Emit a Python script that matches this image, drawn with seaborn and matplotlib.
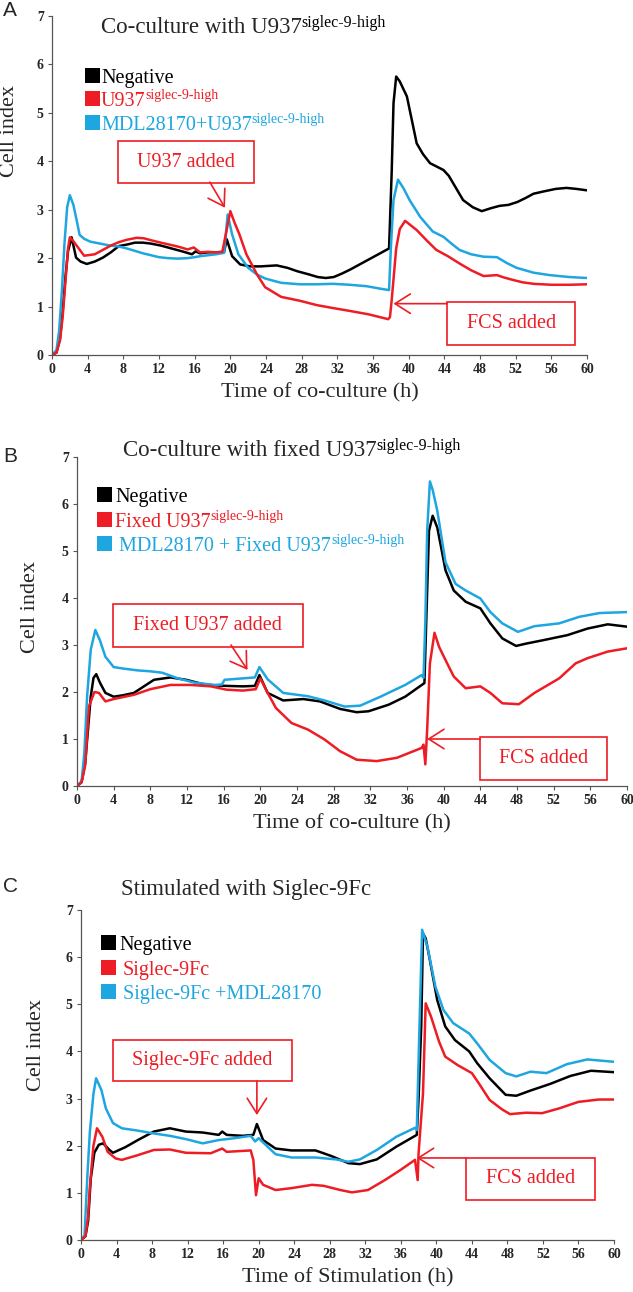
import matplotlib
matplotlib.use("Agg")
import matplotlib.pyplot as plt
import seaborn as sns
import pandas as pd
from matplotlib.patches import Rectangle

# ---------------- data (time h, cell index) ----------------
A_neg = [(0,0),(0.5,0.05),(0.9,0.35),(1.2,0.9),(1.5,1.6),(1.8,2.15),(2.2,2.43),(2.7,2.01),(3.2,1.93),(3.9,1.88),(4.8,1.93),(5.7,2.01),(6.6,2.12),(7.5,2.25),(8.4,2.28),(9.3,2.32),(10.2,2.32),(11.1,2.30),(12.2,2.26),(13.4,2.20),(14.6,2.14),(15.7,2.08),(16.1,2.14),(16.6,2.10),(17.5,2.12),(18.4,2.12),(19.3,2.13),(19.6,2.39),(20.2,2.04),(21.1,1.87),(22.2,1.83),(23.4,1.83),(24.3,1.84),(25.2,1.85),(26.4,1.80),(27.5,1.73),(28.7,1.67),(29.8,1.61),(30.7,1.59),(31.6,1.61),(32.5,1.68),(33.4,1.76),(34.8,1.90),(36.2,2.04),(37.8,2.20),(38.1,3.8),(38.3,5.2),(38.6,5.75),(39.0,5.65),(39.8,5.34),(40.3,4.9),(40.9,4.37),(41.6,4.15),(42.4,3.96),(43.9,3.82),(44.5,3.7),(45.3,3.45),(46.1,3.2),(47.2,3.05),(48.2,2.97),(49.2,3.03),(50.2,3.08),(51.2,3.10),(52.2,3.16),(53.2,3.25),(54.0,3.33),(55.2,3.38),(56.5,3.43),(57.7,3.45),(58.8,3.43),(60.0,3.40)]
A_red = [(0,0),(0.5,0.05),(0.9,0.3),(1.2,0.8),(1.5,1.5),(1.8,2.2),(2.0,2.43),(2.4,2.35),(3.0,2.2),(3.6,2.05),(4.8,2.08),(5.7,2.17),(6.6,2.26),(7.5,2.33),(8.4,2.38),(9.5,2.42),(10.3,2.41),(11.1,2.37),(12.2,2.32),(13.4,2.27),(14.3,2.23),(15.2,2.18),(15.9,2.22),(16.6,2.12),(17.5,2.13),(18.4,2.12),(19.1,2.13),(19.5,2.5),(20.0,2.97),(20.5,2.72),(21.0,2.5),(21.8,2.08),(23.0,1.66),(23.9,1.40),(25.7,1.20),(27.8,1.12),(29.7,1.03),(31.5,0.97),(33.4,0.91),(35.5,0.84),(37.7,0.74),(37.9,0.78),(38.1,1.14),(38.6,2.2),(39.0,2.6),(39.6,2.77),(40.9,2.58),(42.0,2.37),(43.1,2.17),(44.4,2.04),(45.7,1.89),(47.0,1.75),(48.4,1.63),(49.9,1.65),(50.7,1.6),(51.7,1.55),(52.8,1.5),(54.0,1.47),(56.0,1.45),(58.0,1.45),(60.0,1.46)]
A_blue = [(0,0),(0.5,0.1),(0.8,0.5),(1.1,1.3),(1.4,2.3),(1.7,3.05),(2.0,3.3),(2.4,3.1),(2.8,2.75),(3.1,2.48),(3.6,2.4),(4.3,2.34),(5.4,2.3),(6.5,2.26),(7.5,2.24),(8.4,2.2),(9.3,2.15),(10.2,2.1),(11.1,2.06),(12.0,2.02),(13.0,2.0),(14.1,1.99),(15.2,2.0),(16.0,2.02),(16.6,2.04),(17.5,2.06),(18.4,2.08),(19.3,2.11),(19.7,2.9),(20.2,2.49),(20.9,2.08),(22.0,1.8),(23.0,1.66),(23.9,1.58),(25.7,1.49),(27.8,1.46),(29.7,1.46),(31.5,1.47),(33.4,1.45),(35.3,1.42),(36.8,1.37),(37.8,1.34),(38.0,2.2),(38.3,3.2),(38.8,3.62),(39.4,3.45),(40.1,3.2),(41.3,2.85),(42.7,2.55),(43.9,2.44),(44.8,2.3),(45.7,2.17),(47.0,2.08),(48.4,2.03),(49.9,2.02),(51.0,1.9),(52.1,1.8),(54.0,1.7),(55.8,1.65),(58.0,1.61),(60.0,1.59)]

B_neg = [(0,0),(0.5,0.08),(0.9,0.5),(1.2,1.2),(1.5,1.9),(1.8,2.3),(2.1,2.38),(2.5,2.2),(3.1,1.98),(4.0,1.9),(5.0,1.93),(6.2,1.98),(7.3,2.12),(8.4,2.26),(10.2,2.31),(11.9,2.26),(13.7,2.17),(15.0,2.14),(16.3,2.13),(18.1,2.12),(19.4,2.13),(19.9,2.36),(20.8,1.98),(22.5,1.82),(24.7,1.85),(26.5,1.8),(28.7,1.64),(30.5,1.57),(31.8,1.59),(34.0,1.73),(35.8,1.9),(37.9,2.19),(38.1,3.5),(38.4,5.43),(38.8,5.75),(39.3,5.5),(39.8,5.0),(40.2,4.59),(41.1,4.16),(42.4,3.92),(44.0,3.78),(45.1,3.46),(46.4,3.14),(47.9,2.98),(49.0,3.03),(50.8,3.1),(53.5,3.21),(55.7,3.35),(57.9,3.44),(60.0,3.39)]
B_red = [(0,0),(0.5,0.08),(0.9,0.45),(1.3,1.69),(1.9,2.0),(2.4,1.98),(3.1,1.8),(4.0,1.85),(6.2,1.94),(8.0,2.06),(10.2,2.15),(12.4,2.15),(14.6,2.12),(16.3,2.05),(18.1,2.03),(19.5,2.06),(20.0,2.29),(20.8,1.98),(21.7,1.66),(23.4,1.34),(25.2,1.2),(27.0,0.99),(28.7,0.74),(30.5,0.56),(32.7,0.53),(34.9,0.6),(37.6,0.81),(37.8,0.88),(38.0,0.46),(38.2,1.2),(38.5,2.61),(39.0,3.26),(39.5,2.96),(40.2,2.68),(41.1,2.33),(42.4,2.08),(44.0,2.12),(45.1,1.98),(46.4,1.76),(48.2,1.74),(49.9,1.98),(52.6,2.29),(54.4,2.61),(55.7,2.72),(57.9,2.86),(60.0,2.93)]
B_blue = [(0,0),(0.5,0.1),(0.8,0.7),(1.1,1.9),(1.5,2.9),(2.0,3.32),(2.5,3.1),(3.1,2.75),(4.0,2.53),(5.0,2.5),(6.6,2.46),(8.0,2.44),(9.3,2.41),(11.0,2.29),(12.8,2.2),(15.0,2.15),(15.8,2.16),(16.1,2.26),(18.1,2.29),(19.4,2.31),(19.9,2.53),(20.8,2.27),(22.5,1.98),(25.2,1.91),(27.0,1.82),(29.2,1.69),(30.9,1.71),(33.1,1.9),(35.8,2.15),(37.6,2.36),(37.8,2.3),(38.0,3.5),(38.2,5.43),(38.5,6.48),(38.8,6.3),(39.3,5.86),(40.2,4.76),(41.3,4.3),(42.4,4.16),(44.0,3.99),(45.1,3.7),(46.4,3.46),(48.1,3.28),(49.9,3.4),(52.6,3.46),(54.8,3.6),(57.0,3.68),(60.0,3.7)]

C_neg = [(0,0),(0.5,0.08),(0.8,0.4),(1.1,1.3),(1.5,1.85),(2.0,2.02),(2.5,2.05),(3.2,1.91),(3.6,1.85),(5.0,1.97),(6.4,2.12),(8.2,2.3),(10.0,2.37),(11.8,2.3),(13.7,2.28),(15.5,2.23),(15.9,2.3),(16.4,2.23),(18.2,2.21),(19.4,2.23),(19.8,2.46),(20.5,2.12),(21.9,1.94),(23.7,1.9),(26.4,1.9),(28.2,1.78),(30.1,1.63),(31.4,1.61),(33.3,1.71),(35.5,1.98),(37.8,2.23),(38.0,3.0),(38.3,4.53),(38.5,6.5),(38.8,6.4),(39.2,6.01),(40.1,5.09),(41.0,4.53),(42.1,4.24),(43.7,4.0),(44.6,3.75),(46.0,3.43),(47.8,3.08),(49.0,3.06),(50.6,3.17),(52.8,3.31),(55.1,3.48),(57.4,3.59),(60.0,3.56)]
C_red = [(0,0),(0.5,0.08),(0.8,0.5),(1.0,1.13),(1.4,2.0),(1.8,2.37),(2.4,2.19),(3.0,1.87),(3.9,1.73),(4.6,1.7),(6.4,1.8),(8.2,1.91),(10.0,1.92),(11.8,1.85),(14.6,1.84),(15.9,1.94),(16.4,1.87),(18.2,1.89),(19.1,1.9),(19.4,1.7),(19.7,0.95),(20.0,1.31),(20.5,1.17),(21.9,1.06),(23.7,1.1),(26.0,1.17),(27.3,1.15),(29.2,1.06),(30.5,1.01),(32.3,1.06),(34.2,1.27),(36.0,1.49),(37.6,1.7),(37.9,1.27),(38.0,1.84),(38.5,3.11),(38.8,5.02),(39.4,4.74),(40.3,4.21),(41.0,3.89),(42.4,3.71),(44.0,3.54),(44.9,3.29),(46.0,2.97),(47.4,2.77),(48.3,2.67),(50.1,2.7),(51.9,2.69),(53.8,2.79),(56.0,2.93),(58.3,2.98),(60.0,2.98)]
C_blue = [(0,0),(0.4,0.1),(0.7,1.3),(1.0,2.3),(1.4,3.1),(1.7,3.43),(2.3,3.18),(2.8,2.79),(3.6,2.48),(4.6,2.37),(6.4,2.32),(8.2,2.26),(10.0,2.21),(11.8,2.14),(13.7,2.05),(15.5,2.12),(17.3,2.16),(19.1,2.21),(19.6,2.09),(20.0,2.16),(21.0,1.98),(21.9,1.82),(23.7,1.75),(26.4,1.75),(28.7,1.71),(30.1,1.66),(31.4,1.71),(33.3,1.91),(35.5,2.19),(37.6,2.38),(37.8,2.33),(38.1,4.53),(38.4,6.58),(39.0,6.22),(39.9,5.37),(40.8,4.88),(41.9,4.6),(43.7,4.38),(44.6,4.17),(46.0,3.82),(47.8,3.54),(49.0,3.47),(50.6,3.57),(52.4,3.54),(54.7,3.73),(57.0,3.83),(60.0,3.78)]

x_ticks = list(range(0, 61, 4))
y_ticks = list(range(0, 8))
SUP = "siglec-9-high"

# ---------------- style ----------------
sns.set_style("ticks")
plt.rcParams["font.family"] = ["Liberation Serif", "DejaVu Serif"]

BLACK, RED, BLUE = "#000000", "#ee1c24", "#1ea6e0"
W, H = 633, 1292
fig = plt.figure(figsize=(W / 100, H / 100), dpi=100)


def fx(px):
    return px / W


def fy(py):
    return 1 - py / H


panels = [
    dict(rect=(52, 16, 587, 355), series=[A_neg, A_blue, A_red],
         letter=("A", 16), title=("Co-culture with U937", SUP, 101, 33),
         legend=[("Negative", None, BLACK, 101), ("U937", SUP, RED, 101),
                 ("MDL28170+U937", SUP, BLUE, 101)],
         leg_sq=(85, 83, 15), leg_base=[83, 106, 130],
         xlabel="Time of co-culture (h)", ylab=(-0.079, 0.66),
         box1=(7.4, 22.6, 3.55, 4.42, "U937 added"), arr1=((17.7, 3.57), (19.4, 3.04)),
         box2=(44.3, 58.7, 0.2, 1.09, "FCS added"), arr2=((44.3, 1.06), (38.3, 1.06))),
    dict(rect=(77, 457, 627, 786), series=[B_neg, B_blue, B_red],
         letter=("B", 462), title=("Co-culture with fixed U937", SUP, 123, 456),
         legend=[("Negative", None, BLACK, 115), ("Fixed U937", SUP, RED, 115),
                 ("MDL28170 + Fixed U937", SUP, BLUE, 119)],
         leg_sq=(97, 503, 15), leg_base=[502, 527, 551],
         xlabel="Time of co-culture (h)", ylab=(-0.084, 0.545),
         box1=(3.9, 24.6, 2.96, 3.87, "Fixed U937 added"), arr1=((16.8, 3.0), (18.6, 2.47)),
         box2=(44.0, 57.8, 0.13, 1.04, "FCS added"), arr2=((44.0, 1.0), (38.2, 1.0))),
    dict(rect=(81, 910, 614, 1240), series=[C_neg, C_blue, C_red],
         letter=("C", 892), title=("Stimulated with Siglec-9Fc", None, 121, 895),
         legend=[("Negative", None, BLACK, 119), ("Siglec-9Fc", None, RED, 123),
                 ("Siglec-9Fc +MDL28170", None, BLUE, 123)],
         leg_sq=(101, 951, 15), leg_base=[950, 975, 999],
         xlabel="Time of Stimulation (h)", ylab=(-0.083, 0.59),
         box1=(3.55, 23.8, 3.37, 4.24, "Siglec-9Fc added"), arr1=((19.8, 3.37), (19.8, 2.65)),
         box2=(43.3, 57.9, 0.85, 1.75, "FCS added"), arr2=((43.3, 1.74), (37.8, 1.74))),
]

names = ["neg", "blue", "red"]
palette = {"neg": BLACK, "blue": BLUE, "red": RED}
sup_jobs = []

for p in panels:
    x0, y0, x1, y1 = p["rect"]
    ax = fig.add_axes([fx(x0), fy(y1), (x1 - x0) / W, (y1 - y0) / H])
    frames = []
    for name, ser in zip(names, p["series"]):
        t, v = zip(*ser)
        frames.append(pd.DataFrame({"t": t, "v": v, "s": name}))
    df = pd.concat(frames, ignore_index=True)
    sns.lineplot(data=df, x="t", y="v", hue="s", hue_order=names, palette=palette,
                 estimator=None, sort=False, linewidth=1.8, legend=False, ax=ax)
    ax.set_xlim(0, 60)
    ax.set_ylim(0, 7)
    ax.set_xticks(x_ticks)
    ax.set_yticks(y_ticks)
    for s in ["top", "right"]:
        ax.spines[s].set_visible(False)
    for s in ["left", "bottom"]:
        ax.spines[s].set_color("#555555")
        ax.spines[s].set_linewidth(0.9)
    ax.tick_params(direction="out", length=3, width=0.8, color="#555555", pad=3,
                   labelsize=10)
    for lab in ax.get_xticklabels() + ax.get_yticklabels():
        lab.set_fontweight("bold")
    ax.set_xlabel(p["xlabel"], fontsize=16, labelpad=5)
    ax.set_ylabel("Cell index", fontsize=16)
    ax.yaxis.set_label_coords(*p["ylab"])
    ax.yaxis.label.set_va("center")

    # annotation boxes and arrows
    for bkey, akey in (("box1", "arr1"), ("box2", "arr2")):
        bx0, bx1, by0, by1, txt = p[bkey]
        ax.add_patch(Rectangle((bx0, by0), bx1 - bx0, by1 - by0, facecolor="white",
                               edgecolor=RED, linewidth=1.2, zorder=5))
        ax.text((bx0 + bx1) / 2, (by0 + by1) / 2, txt, color=RED, fontsize=14.5,
                ha="center", va="center", zorder=6)
        tail, head = p[akey]
        ax.annotate("", xy=head, xytext=tail, zorder=6,
                    arrowprops=dict(arrowstyle="->,head_length=0.55,head_width=0.35",
                                    color=RED, lw=1.2, shrinkA=0, shrinkB=0,
                                    mutation_scale=20))

    # panel letter
    letter, ly = p["letter"]
    fig.text(fx(3), fy(ly), letter, fontsize=15, family=["Liberation Sans"],
             ha="left", va="baseline")

    # title
    tmain, tsup, tx, tyb = p["title"]
    tt = fig.text(fx(tx), fy(tyb), tmain, fontsize=16.5, ha="left", va="baseline")
    if tsup:
        sup_jobs.append((tt, tsup, tyb - 6, 11.5, "black"))

    # legend
    sqx, _, sqs = p["leg_sq"]
    for (lab, lsup, col, lx), base in zip(p["legend"], p["leg_base"]):
        fig.patches.append(Rectangle((fx(sqx), fy(base)), sqs / W, sqs / H,
                                     transform=fig.transFigure, facecolor=col,
                                     edgecolor="none"))
        lt = fig.text(fx(lx), fy(base), lab, fontsize=14.5, color=col,
                      ha="left", va="baseline")
        if lsup:
            sup_jobs.append((lt, lsup, base - 7, 10, col))

fig.canvas.draw()
renderer = fig.canvas.get_renderer()
for t, s, base, size, col in sup_jobs:
    bb = t.get_window_extent(renderer)
    fig.text(bb.x1 / fig.bbox.width, fy(base), s, fontsize=size, color=col,
             ha="left", va="baseline")

fig.savefig("out.png", dpi=100)
